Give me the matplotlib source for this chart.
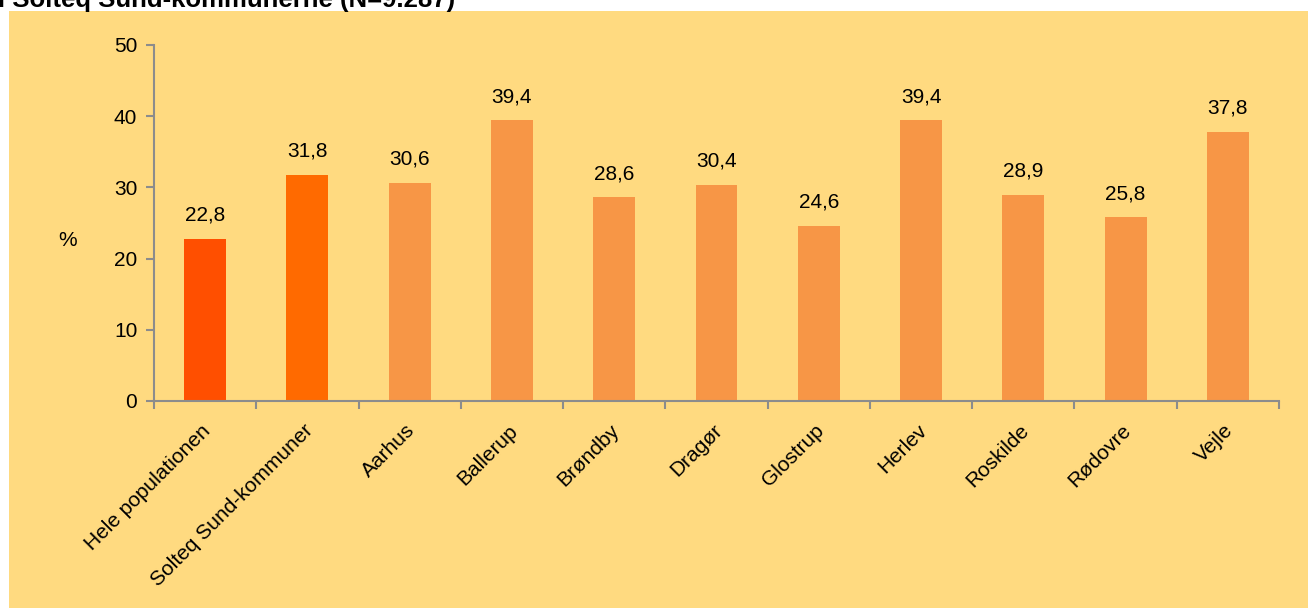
import matplotlib
matplotlib.use("Agg")
import matplotlib.pyplot as plt
from matplotlib.patches import Rectangle

categories = ["Hele populationen", "Solteq Sund-kommuner", "Aarhus", "Ballerup", "Brøndby",
              "Dragør", "Glostrup", "Herlev", "Roskilde", "Rødovre", "Vejle"]
values = [22.8, 31.8, 30.6, 39.4, 28.6, 30.4, 24.6, 39.4, 28.9, 25.8, 37.8]
bar_colors = ["#FF4F00", "#FF6A00"] + ["#F79646"] * 9
yticks = [0, 10, 20, 30, 40, 50]
title = "i Solteq Sund-kommunerne (N=9.287)"

plt.rcParams['font.family'] = ['Liberation Sans', 'DejaVu Sans']
FS = 15

fig = plt.figure(figsize=(13.08, 6.08), dpi=100)
fig.patch.set_facecolor("white")
fig.patches.append(Rectangle((9/1308, 0), 1, 1 - 11/608, transform=fig.transFigure,
                             facecolor="#FFDA80", edgecolor="none", linewidth=0,
                             antialiased=False, zorder=-10))

ax = fig.add_axes([154/1308, 1 - 401/608, (1279-154)/1308, (401-45)/608])
ax.set_zorder(5)
ax.set_facecolor("none")
x = list(range(len(categories)))
ax.bar(x, values, width=0.41, color=bar_colors, zorder=2)
for xi, v in zip(x, values):
    ax.text(xi, v + 2.0, f"{v:.1f}".replace(".", ","), ha="center", va="bottom", fontsize=FS)

ax.set_xlim(-0.5, len(categories) - 0.5)
ax.set_ylim(0, 50)
ax.set_yticks(yticks)
ax.set_yticklabels([str(t) for t in yticks], fontsize=FS)
ax.set_xticks([i - 0.5 for i in range(len(categories) + 1)])
ax.set_xticklabels([])
for xi, c in zip(x, categories):
    ax.text(xi - 0.04, -2.8, c, rotation=45, ha="right", va="top", rotation_mode="anchor",
            fontsize=FS, transform=ax.transData, clip_on=False)

for s in ["top", "right"]:
    ax.spines[s].set_visible(False)
for s in ["left", "bottom"]:
    ax.spines[s].set_color("#8C8C8C")
    ax.spines[s].set_linewidth(1.5)
ax.tick_params(axis="both", direction="out", color="#8C8C8C", width=1.5, length=6)
ax.tick_params(axis="y", pad=6)

fig.text(68/1308, 1 - 240/608, "%", fontsize=FS, ha="center", va="center")
fig.text(-2/1308, 1 - 7/608, title, fontsize=18.5, fontweight="bold", ha="left", va="baseline")

fig.savefig("out.png", dpi=100)
